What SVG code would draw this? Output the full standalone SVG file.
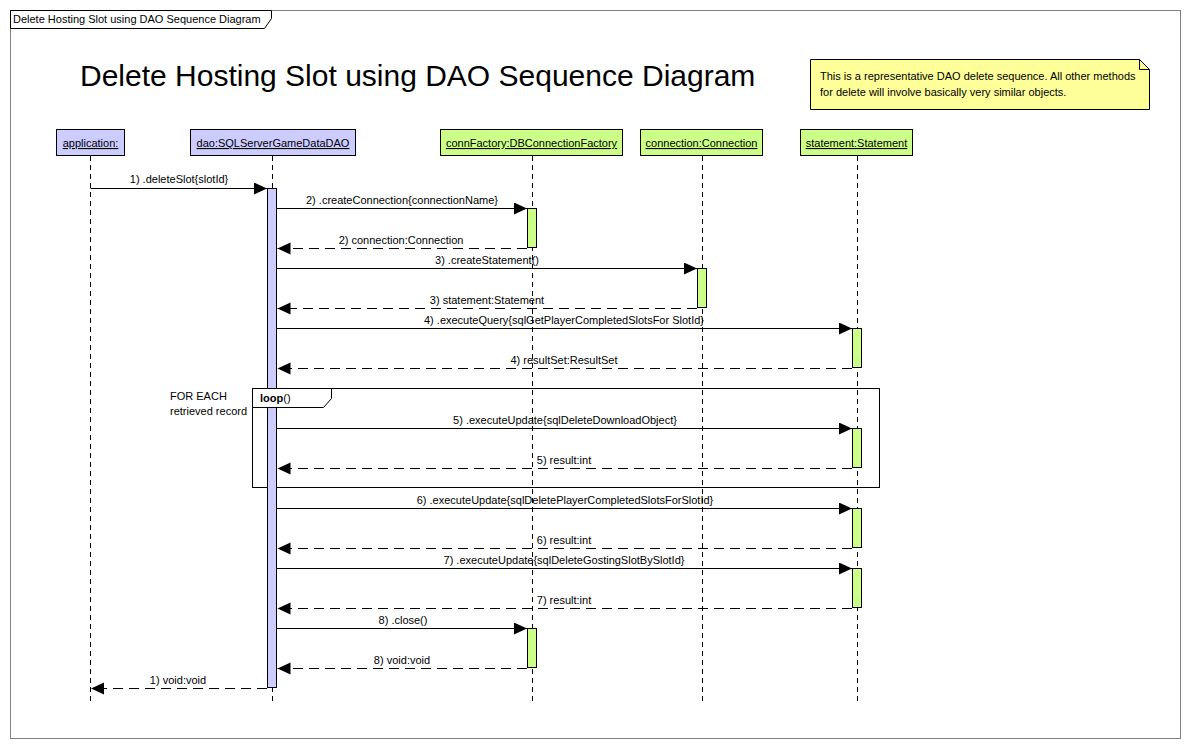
<svg xmlns="http://www.w3.org/2000/svg" width="1190" height="748" viewBox="0 0 1190 748">
<style>
text{font-family:"Liberation Sans",Arial,sans-serif;font-size:11px;fill:#000}
.hdr{stroke:#000;stroke-width:1}
.blue{fill:#ccccff}
.green{fill:#ccff88}
.ul{text-decoration:underline}
.life{stroke:#000;stroke-width:1;stroke-dasharray:5,4;fill:none}
.bar{stroke:#000;stroke-width:1}
.call{stroke:#000;stroke-width:1;fill:none;marker-end:url(#ah)}
.ret{stroke:#000;stroke-width:1;fill:none;stroke-dasharray:10,6;marker-end:url(#ah)}
.mc{text-anchor:middle}
</style>
<defs>
<marker id="ah" markerUnits="userSpaceOnUse" markerWidth="14" markerHeight="13" refX="13" refY="6" orient="auto">
<path d="M0,0 L13,6 L0,12 z" fill="#000"/>
</marker>
</defs>
<rect x="0" y="0" width="1190" height="748" fill="#fff"/>
<g id="frame">
<rect x="10.5" y="10.5" width="1170" height="728" fill="none" stroke="#808080"/>
<path d="M10.5,10.5 H271.5 V18.5 L264.5,28.5 H10.5 Z" fill="#fff" stroke="#000"/>
<text x="13" y="23">Delete Hosting Slot using DAO Sequence Diagram</text>
</g>
<g id="title">
<text x="80" y="86" style="font-size:30px">Delete Hosting Slot using DAO Sequence Diagram</text>
</g>
<g id="note">
<path d="M810.5,59.5 H1139.5 L1149.5,69.5 V109.5 H810.5 Z" fill="#ffff99" stroke="#000"/>
<path d="M1139.5,59.5 V69.5 H1149.5" fill="none" stroke="#000"/>
<text x="820" y="80">This is a representative DAO delete sequence. All other methods</text>
<text x="820" y="96">for delete will involve basically very similar objects.</text>
</g>
<g id="application">
<rect class="hdr blue" x="56.5" y="129.5" width="68" height="26"/>
<text class="ul mc" x="90.5" y="147">application:</text>
<line class="life" x1="90.5" y1="156" x2="90.5" y2="705"/>
</g>
<g id="loop">
<rect x="252.5" y="388.5" width="627" height="99" fill="none" stroke="#000"/>
<text x="170" y="400">FOR EACH</text>
<text x="170" y="415">retrieved record</text>
</g>
<g id="dao">
<rect class="hdr blue" x="190.5" y="129.5" width="165" height="26"/>
<text class="ul mc" x="273" y="147">dao:SQLServerGameDataDAO</text>
<line class="life" x1="272.5" y1="156" x2="272.5" y2="705"/>
<rect class="bar blue" x="267.5" y="188.5" width="9" height="499"/>
</g>
<g id="loop-tab">
<path d="M252.5,388.5 H331.5 V398.5 L323.5,407.5 H252.5 Z" fill="#fff" stroke="#000"/>
<text x="260" y="402"><tspan font-weight="bold">loop</tspan>()</text>
</g>
<g id="connFactory">
<rect class="hdr green" x="440.5" y="129.5" width="182" height="26"/>
<text class="ul mc" x="531.5" y="147">connFactory:DBConnectionFactory</text>
<line class="life" x1="532.5" y1="156" x2="532.5" y2="705"/>
<rect class="bar green" x="527.5" y="208.5" width="9" height="39"/>
<rect class="bar green" x="527.5" y="628.5" width="9" height="39"/>
</g>
<g id="connection">
<rect class="hdr green" x="640.5" y="129.5" width="122" height="26"/>
<text class="ul mc" x="701.5" y="147">connection:Connection</text>
<line class="life" x1="702.5" y1="156" x2="702.5" y2="705"/>
<rect class="bar green" x="697.5" y="268.5" width="9" height="39"/>
</g>
<g id="statement">
<rect class="hdr green" x="800.5" y="129.5" width="112" height="26"/>
<text class="ul mc" x="856.5" y="147">statement:Statement</text>
<line class="life" x1="857.5" y1="156" x2="857.5" y2="705"/>
<rect class="bar green" x="852.5" y="328.5" width="9" height="39"/>
<rect class="bar green" x="852.5" y="428.5" width="9" height="39"/>
<rect class="bar green" x="852.5" y="508.5" width="9" height="39"/>
<rect class="bar green" x="852.5" y="568.5" width="9" height="39"/>
</g>
<g id="connectors">
<line class="call" x1="90.5" y1="188.5" x2="267" y2="188.5"/>
<text class="mc" x="179" y="183">1) .deleteSlot{slotId}</text>
<line class="call" x1="277" y1="208.5" x2="527" y2="208.5"/>
<text class="mc" x="402" y="204">2) .createConnection{connectionName}</text>
<line class="ret" x1="527" y1="248.5" x2="277.5" y2="248.5"/>
<text class="mc" x="401" y="244">2) connection:Connection</text>
<line class="call" x1="277" y1="268.5" x2="697" y2="268.5"/>
<text class="mc" x="487" y="264">3) .createStatement()</text>
<line class="ret" x1="697" y1="308.5" x2="277.5" y2="308.5"/>
<text class="mc" x="487" y="304">3) statement:Statement</text>
<line class="call" x1="277" y1="328.5" x2="852" y2="328.5"/>
<text class="mc" x="564" y="324">4) .executeQuery{sqlGetPlayerCompletedSlotsFor SlotId}</text>
<line class="ret" x1="852" y1="368.5" x2="277.5" y2="368.5"/>
<text class="mc" x="564" y="364">4) resultSet:ResultSet</text>
<line class="call" x1="277" y1="428.5" x2="852" y2="428.5"/>
<text class="mc" x="565" y="424">5) .executeUpdate{sqlDeleteDownloadObject}</text>
<line class="ret" x1="852" y1="468.5" x2="277.5" y2="468.5"/>
<text class="mc" x="564" y="464">5) result:int</text>
<line class="call" x1="277" y1="508.5" x2="852" y2="508.5"/>
<text class="mc" x="565" y="504">6) .executeUpdate{sqlDeletePlayerCompletedSlotsForSlotId}</text>
<line class="ret" x1="852" y1="548.5" x2="277.5" y2="548.5"/>
<text class="mc" x="564" y="544">6) result:int</text>
<line class="call" x1="277" y1="568.5" x2="852" y2="568.5"/>
<text class="mc" x="564" y="564">7) .executeUpdate{sqlDeleteGostingSlotBySlotId}</text>
<line class="ret" x1="852" y1="608.5" x2="277.5" y2="608.5"/>
<text class="mc" x="564" y="604">7) result:int</text>
<line class="call" x1="277" y1="628.5" x2="527" y2="628.5"/>
<text class="mc" x="403" y="624">8) .close()</text>
<line class="ret" x1="527" y1="668.5" x2="277.5" y2="668.5"/>
<text class="mc" x="402" y="664">8) void:void</text>
<line class="ret" x1="267" y1="688.5" x2="91" y2="688.5"/>
<text class="mc" x="178" y="684">1) void:void</text>
</g>
</svg>
